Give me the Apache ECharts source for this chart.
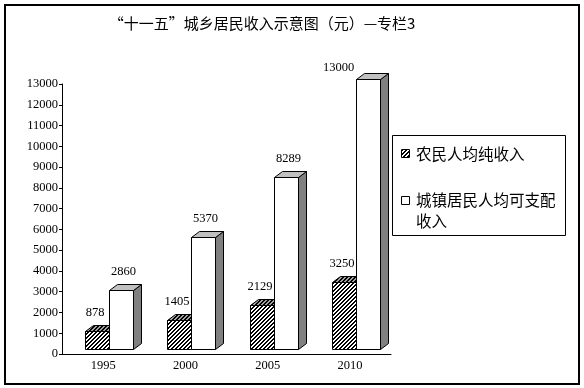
<!DOCTYPE html>
<html>
<head>
<meta charset="utf-8">
<script src="https://cdn.jsdelivr.net/npm/echarts@6/dist/echarts.min.js"></script>
<style>html,body{margin:0;padding:0;background:#fff}#c{width:584px;height:388px}</style>
</head>
<body>
<div id="c"></div>
<script>
const titleText = '“十一五”城乡居民收入示意图（元）—专栏3';
const categories = ['1995', '2000', '2005', '2010'];
const farmerIncome = [878, 1405, 2129, 3250];
const urbanIncome = [2860, 5370, 8289, 13000];
const seriesNames = ['农民人均纯收入', '城镇居民人均可支配收入'];
const yMin = 0, yMax = 13000, yStep = 1000;

const NUM_FONT = '"Liberation Serif", serif';
const CJK_FONT = '"Noto Sans CJK SC", sans-serif';

function hatch(bg, fg) {
  const cv = document.createElement('canvas');
  cv.width = 4; cv.height = 4;
  const g = cv.getContext('2d');
  g.fillStyle = bg; g.fillRect(0, 0, 4, 4);
  g.fillStyle = fg;
  for (let i = 0; i < 4; i++) {
    g.fillRect(3 - i, i, 1, 1);
    g.fillRect((4 - i) % 4, i, 1, 1);
  }
  return { image: cv, repeat: 'repeat' };
}
const frontHatch = hatch('#ffffff', '#000000');
const topHatch = hatch('#a0a0a0', '#000000');

const BAR_W = 24, OFF = 6, DX = 8, DY = 6, LIFT = 5;
const r = v => Math.round(v) + 0.5;

function makeRender(isUrban) {
  return function (params, api) {
    const cat = api.value(0), val = api.value(1);
    const top = api.coord([cat, val]);
    const base = api.coord([cat, 0]);
    const cx = top[0] + OFF;
    const x0 = r(isUrban ? cx : cx - BAR_W);
    const x1 = r(isUrban ? cx + BAR_W : cx);
    const yb = r(base[1] - LIFT);
    const yt = r(top[1] - LIFT);
    const stroke = '#000';
    const children = [
      { type: 'polygon', shape: { points: [[x1, yt], [x1 + DX, yt - DY], [x1 + DX, yb - DY], [x1, yb]] },
        style: { fill: '#808080', stroke, lineWidth: 1 } },
      { type: 'polygon', shape: { points: [[x0, yt], [x1, yt], [x1 + DX, yt - DY], [x0 + DX, yt - DY]] },
        style: { fill: isUrban ? '#c0c0c0' : topHatch, stroke, lineWidth: 1 } },
      { type: 'rect', shape: { x: x0, y: yt, width: x1 - x0, height: yb - yt },
        style: { fill: isUrban ? '#ffffff' : frontHatch, stroke, lineWidth: 1 } }
    ];
    const backTop = yt - DY;
    let lx = (x0 + x1) / 2 + (isUrban ? 2 : -2.5);
    let ly = backTop - 13;
    if (ly < 64) { lx = x0 - 18; ly = backTop - 6; }
    children.push({ type: 'text', style: { text: String(val), x: lx, y: ly, align: 'center', verticalAlign: 'middle',
      fontSize: 12.5, fontFamily: NUM_FONT, fill: '#000' } });
    return { type: 'group', children };
  };
}

const chart = echarts.init(document.getElementById('c'), null, { renderer: 'canvas' });
const legendName2 = seriesNames[1].slice(0, 9) + '\n' + seriesNames[1].slice(9);
chart.setOption({
  animation: false,
  backgroundColor: '#fff',
  grid: { left: 62, top: 84, width: 329, height: 270 },
  xAxis: {
    type: 'category', data: categories,
    axisLine: { lineStyle: { color: '#000', width: 1 } },
    axisTick: { inside: true, length: 5, lineStyle: { color: '#000' } },
    axisLabel: { margin: 5, color: '#000', fontSize: 12.5, fontFamily: NUM_FONT },
    splitLine: { show: false }
  },
  yAxis: {
    type: 'value', min: yMin, max: yMax, interval: yStep,
    axisLine: { show: true, lineStyle: { color: '#000', width: 1 } },
    axisTick: { show: true, length: 3, lineStyle: { color: '#000' } },
    axisLabel: { margin: 4, color: '#000', fontSize: 12.5, fontFamily: NUM_FONT, formatter: v => String(v) },
    splitLine: { show: false }
  },
  series: [
    { name: seriesNames[0], type: 'custom', z: 2, data: farmerIncome.map((v, i) => [i, v]),
      renderItem: makeRender(false), encode: { x: 0, y: 1 } },
    { name: seriesNames[1], type: 'custom', z: 3, data: urbanIncome.map((v, i) => [i, v]),
      renderItem: makeRender(true), encode: { x: 0, y: 1 } }
  ],
  graphic: [
    { type: 'rect', silent: true, shape: { x: 5, y: 5, width: 574, height: 379 },
      style: { fill: null, stroke: '#000', lineWidth: 2 } },
    { type: 'text', silent: true, style: { text: titleText, x: 262, y: 23, align: 'center', verticalAlign: 'middle',
      fontSize: 15, fontFamily: CJK_FONT, fill: '#000' } },
    { type: 'rect', silent: true, shape: { x: 392.5, y: 135.5, width: 173, height: 100 },
      style: { fill: '#fff', stroke: '#000', lineWidth: 1 } },
    { type: 'rect', silent: true, shape: { x: 401.5, y: 149.5, width: 8, height: 8 },
      style: { fill: frontHatch, stroke: '#000', lineWidth: 1 } },
    { type: 'text', silent: true, style: { text: seriesNames[0], x: 416, y: 154, verticalAlign: 'middle',
      fontSize: 15.5, fontFamily: CJK_FONT, fill: '#000' } },
    { type: 'rect', silent: true, shape: { x: 401.5, y: 196.5, width: 8, height: 8 },
      style: { fill: '#fff', stroke: '#000', lineWidth: 1 } },
    { type: 'text', silent: true, style: { text: legendName2, x: 416, y: 190, verticalAlign: 'top', lineHeight: 21,
      fontSize: 15.5, fontFamily: CJK_FONT, fill: '#000' } }
  ]
});
</script>
</body>
</html>
